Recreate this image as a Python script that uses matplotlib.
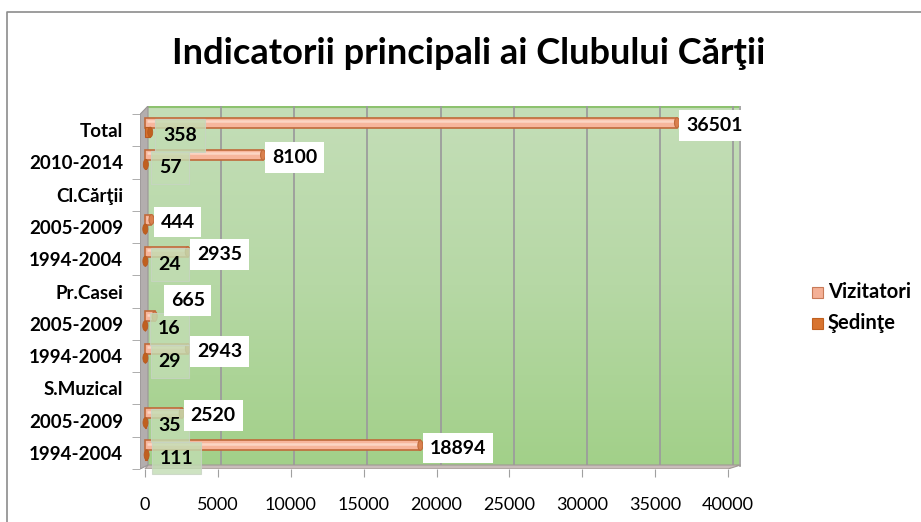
import numpy as np
import matplotlib
matplotlib.use("Agg")
import matplotlib.pyplot as plt
from matplotlib.patches import Rectangle, Polygon, Ellipse
from matplotlib.colors import LinearSegmentedColormap

plt.rcParams['font.family'] = ['Lato', 'DejaVu Sans']

# ---------------- data ----------------
categories = ["1994-2004", "2005-2009", "S.Muzical",
              "1994-2004", "2005-2009", "Pr.Casei",
              "1994-2004", "2005-2009", "Cl.Cărţii",
              "2010-2014", "Total"]
vizitatori = [18894, 2520, None, 2943, 665, None, 2935, 444, None, 8100, 36501]
sedinte = [111, 35, None, 29, 16, None, 24, 20, None, 57, 358]
sedinte_labels = ["111", "35", "", "29", "16", "", "24", "", "", "57", "358"]
xticks = [0, 5000, 10000, 15000, 20000, 25000, 30000, 35000, 40000]
title = "Indicatorii principali ai Clubului Cărţii"
series_names = ["Vizitatori", "Şedinţe"]

# ---------------- style ----------------
W, H = 921, 522
fig = plt.figure(figsize=(W / 100, H / 100), dpi=100)
px_left, px_right, px_top, px_bot = 140, 741, 106, 469
ax = fig.add_axes([px_left / W, 1 - px_bot / H, (px_right - px_left) / W, (px_bot - px_top) / H])
ppu = 583 / 40000  # pixels per data unit
xmin = -(145 - px_left) / ppu
xmax = (px_right - 145) / ppu
ax.set_xlim(xmin, xmax)
ax.set_ylim(-0.5, 10.75)
ax.set_facecolor('none')
for s in ax.spines.values():
    s.set_visible(False)

rowpx = 32.3
wall_left = (148 - 145) / ppu
wall_bottom = -0.5 + 4 / rowpx
wall_right = xmax - 30

# wall gradient
cmap = LinearSegmentedColormap.from_list('w', ['#A2D089', '#B6D8A5', '#C4DEB8'])
grad = np.linspace(0, 1, 256).reshape(-1, 1)
ax.imshow(grad, extent=(wall_left, wall_right, wall_bottom, 10.75), origin='lower',
          aspect='auto', cmap=cmap, zorder=0)
ax.plot([wall_left, wall_right], [10.73, 10.73], color='#8DC26F', lw=1.5, zorder=1)
# gridlines
for t in xticks[1:]:
    gx = wall_left + t * (wall_right - wall_left) / 40500
    ax.plot([gx, gx], [wall_bottom, 10.75], color='#9C9C9C', lw=1.3, zorder=1)
ax.plot([xmax - 40, xmax - 40], [wall_bottom, 10.75], color='#A8A8A8', lw=2, zorder=1)
# floor
floor = Polygon([[0, -0.5], [40000, -0.5], [wall_right, wall_bottom], [wall_left, wall_bottom]],
                closed=True, facecolor='#C9BDBA', edgecolor='#A09894', lw=0.8, zorder=1)
ax.add_patch(floor)
# left wall
lw_poly = Polygon([[xmin + 20, -0.5], [wall_left, wall_bottom], [wall_left, 10.75],
                   [xmin + 20, 10.5]], closed=True, facecolor='#B3AEAE',
                  edgecolor='#9A9595', lw=0.8, zorder=1)
ax.add_patch(lw_poly)

# bars
viz_face, viz_edge, viz_cap = '#F7B69C', '#C06A3A', '#D9804E'
sed_face, sed_edge = '#D8722F', '#B85A20'
bh = 10 / rowpx
cap_w = 5 / ppu
for i, (v, s) in enumerate(zip(vizitatori, sedinte)):
    yv = i + 7.5 / rowpx
    ys = i - 2 / rowpx
    if v is not None:
        ax.barh(yv, v, height=bh, left=0, color=viz_face, edgecolor=viz_edge, lw=1.2, zorder=3)
        ax.plot([cap_w * 0.3, v], [yv + bh * 0.15, yv + bh * 0.15], color='#FCD5C3',
                lw=1.8, zorder=4, solid_capstyle='butt')
        ax.add_patch(Ellipse((v, yv), cap_w, bh, facecolor=viz_cap, edgecolor=viz_edge,
                             lw=0.8, zorder=4))
        dy = 0.15
        dx = 9
        if i == 4:
            dy = 0.72
            dx = 16
        ax.annotate(f"{v}", xy=(v, i + dy), xytext=(dx, 0), textcoords='offset pixels',
                    ha='left', va='center', fontsize=14, fontweight='bold', color='black',
                    bbox=dict(boxstyle='square,pad=0.35', facecolor='white', edgecolor='none'),
                    zorder=6)
    if s is not None:
        ax.barh(ys, s, height=bh, left=0, color=sed_face, edgecolor=sed_edge, lw=0.8, zorder=3)
        ax.add_patch(Ellipse((s, ys), cap_w, bh, facecolor='#C0601F', edgecolor=sed_edge,
                             lw=0.6, zorder=4))
        if sedinte_labels[i]:
            ax.annotate(sedinte_labels[i], xy=(s, i - 0.16), xytext=(13, 0),
                        textcoords='offset pixels', ha='left', va='center', fontsize=14,
                        fontweight='bold', color='black',
                        bbox=dict(boxstyle='square,pad=0.4', facecolor='#C2DDB3',
                                  edgecolor='#C8D4C4', lw=0.8, alpha=0.8),
                        zorder=5)

# ticks
ax.set_xticks(xticks)
ax.set_xticklabels([str(t) for t in xticks], fontsize=13)
ax.tick_params(axis='x', length=6, color='#A0A0A0', pad=14, direction='out')
ax.set_yticks(range(len(categories)))
ax.set_yticklabels(categories, fontsize=13.5, fontweight='bold')
ax.tick_params(axis='y', length=0, pad=12)
ax.set_yticks(np.arange(-0.5, 11, 1), minor=True)
ax.tick_params(axis='y', which='minor', length=6, color='#A0A0A0', direction='out')

# title
fig.text(469 / W, 1 - 64 / H, title, ha='center', va='baseline', fontsize=26, fontweight='bold')

# legend
for k, (name, col, ec, yy) in enumerate([(series_names[0], '#F4B096', '#C87A58', 292),
                                         (series_names[1], '#D8742F', '#C0601F', 323)]):
    fig.patches.append(Rectangle((812 / W, 1 - (yy + 6) / H), 11 / W, 11 / H,
                                 transform=fig.transFigure, facecolor=col, edgecolor=ec,
                                 lw=0.8, figure=fig))
    fig.text(828 / W, 1 - yy / H, name, ha='left', va='center', fontsize=14.5, fontweight='bold')

# border
fig.add_artist(plt.Line2D([7 / W, 7 / W, 1], [0, 1 - 12 / H, 1 - 12 / H],
                          transform=fig.transFigure, color='#8C8C8C', lw=1.2))

fig.savefig('out.png', dpi=100)
